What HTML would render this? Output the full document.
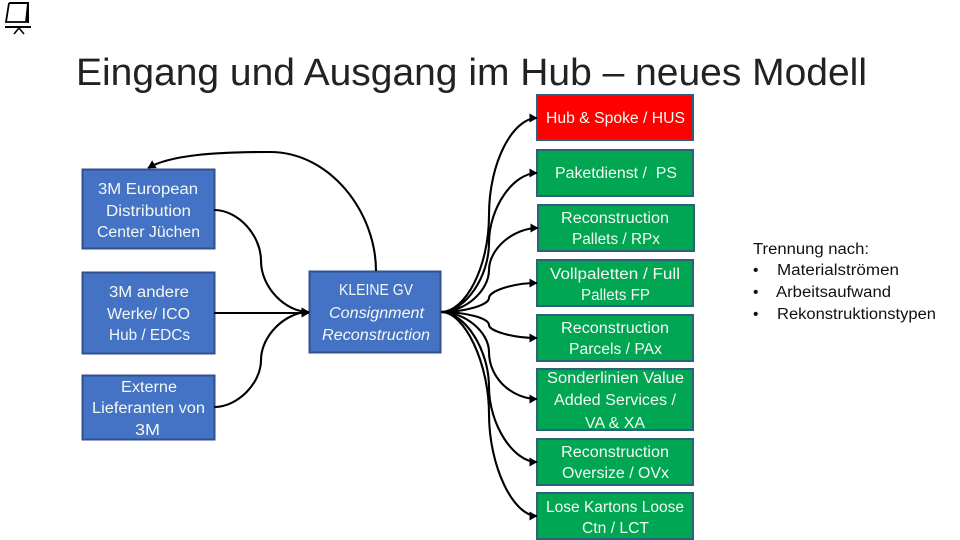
<!DOCTYPE html>
<html lang="de"><head><meta charset="utf-8"><title>Eingang und Ausgang im Hub</title>
<style>
html,body{margin:0;padding:0;background:#fff;width:960px;height:540px;overflow:hidden}
svg{display:block}
text{font-family:"Liberation Sans",sans-serif;font-size:15.5px}
.w text{fill:#f4f8f4}
.b rect{fill:#4472c4;stroke:#2f528f;stroke-width:2}
.g rect{fill:#00a651;stroke:#2f5f7f;stroke-width:2}
.c path{fill:none;stroke:#000;stroke-width:2.1}
.d text{fill:#111}
</style></head><body>
<svg width="960" height="540" viewBox="0 0 960 540" xmlns="http://www.w3.org/2000/svg">
<defs><marker id="a" markerUnits="userSpaceOnUse" markerWidth="10" markerHeight="10" refX="7.500" refY="4.500" orient="auto"><path d="M0 0L8 4.500L0 9Z" fill="#000"/></marker></defs>

<!-- icon -->
<g fill="none" stroke="#000">
<path d="M9 3H28V23" stroke-width="2"/><path d="M9 3L6 22H26L28 3" stroke-width="1.800"/><path d="M5 27H31" stroke-width="2"/><path d="M19 28L14 34M19 28L24 34" stroke-width="1.500"/>
</g>

<text x="76" y="85" style="font-size:38px" fill="#222" textLength="791" lengthAdjust="spacingAndGlyphs">Eingang und Ausgang im Hub – neues Modell</text>

<g class="b">
<rect x="82.500" y="169.500" width="132" height="79"/>
<rect x="82.500" y="272.500" width="132" height="81"/>
<rect x="82.500" y="375.500" width="132" height="64"/>
<rect x="309.500" y="271.500" width="131" height="81"/>
</g>
<g class="g">
<rect x="537" y="95" width="156" height="45" style="fill:#f00"/>
<rect x="537" y="150" width="156" height="46"/>
<rect x="538" y="205" width="156" height="46"/>
<rect x="537" y="260" width="156" height="46"/>
<rect x="537" y="315" width="156" height="46"/>
<rect x="537" y="369" width="156" height="61"/>
<rect x="537" y="439" width="156" height="46"/>
<rect x="537" y="493" width="156" height="46"/>
</g>

<g class="c">
<path marker-end="url(#a)" d="M214 210C238 210 261 235 261 261C261 287 285 312 309 312"/>
<path marker-end="url(#a)" d="M214 313H309"/>
<path marker-end="url(#a)" d="M214 407C238 407 261 383 261 360C261 336 285 312 309 312"/>
<path marker-end="url(#a)" d="M376 271C376 212 330 152 270 152C215 152 170 155 148 168"/>
<path marker-end="url(#a)" d="M441 312C465 312 489 268 489 215C489 162 513 118 537 118"/>
<path marker-end="url(#a)" d="M441 312C465 312 489 277 489 243C489 208 513 173 537 173"/>
<path marker-end="url(#a)" d="M441 312C465 312 489 291 489 270C489 249 513 228 538 228"/>
<path marker-end="url(#a)" d="M441 312C465 312 489 305 489 298C489 291 513 283 537 283"/>
<path marker-end="url(#a)" d="M441 312C465 312 489 318 489 325C489 331 513 338 537 338"/>
<path marker-end="url(#a)" d="M441 312C465 312 489 332 489 352C489 379 513 399 537 399"/>
<path marker-end="url(#a)" d="M441 312C465 312 489 350 489 387C489 424 513 462 537 462"/>
<path marker-end="url(#a)" d="M441 312C465 312 489 364 489 414C489 466 513 516 537 516"/>
</g>

<g class="w">
<text lengthAdjust="spacingAndGlyphs" x="98" y="194" textLength="100">3M European</text>
<text lengthAdjust="spacingAndGlyphs" x="106" y="216" textLength="85">Distribution</text>
<text lengthAdjust="spacingAndGlyphs" x="97" y="237" textLength="103">Center Jüchen</text>
<text lengthAdjust="spacingAndGlyphs" x="109" y="297" textLength="80">3M andere</text>
<text lengthAdjust="spacingAndGlyphs" x="107" y="319" textLength="83">Werke/ ICO</text>
<text lengthAdjust="spacingAndGlyphs" x="109" y="340" textLength="81">Hub / EDCs</text>
<text lengthAdjust="spacingAndGlyphs" x="121" y="392" textLength="56">Externe</text>
<text lengthAdjust="spacingAndGlyphs" x="92" y="413" textLength="113">Lieferanten von</text>
<text lengthAdjust="spacingAndGlyphs" x="135" y="435" textLength="25">3M</text>
<text lengthAdjust="spacingAndGlyphs" x="339" y="295" textLength="74">KLEINE GV</text>
<text lengthAdjust="spacingAndGlyphs" x="329" y="318" textLength="95" font-style="italic">Consignment</text>
<text lengthAdjust="spacingAndGlyphs" x="322" y="340" textLength="108" font-style="italic">Reconstruction</text>
<text lengthAdjust="spacingAndGlyphs" x="546" y="123" textLength="139">Hub &amp; Spoke / HUS</text>
<text lengthAdjust="spacingAndGlyphs" x="555" y="178" textLength="122" xml:space="preserve">Paketdienst /  PS</text>
<text lengthAdjust="spacingAndGlyphs" x="561" y="223" textLength="108">Reconstruction</text>
<text lengthAdjust="spacingAndGlyphs" x="572" y="244" textLength="88">Pallets / RPx</text>
<text lengthAdjust="spacingAndGlyphs" x="550" y="279" textLength="130">Vollpaletten / Full</text>
<text lengthAdjust="spacingAndGlyphs" x="581" y="300" textLength="69">Pallets FP</text>
<text lengthAdjust="spacingAndGlyphs" x="561" y="333" textLength="108">Reconstruction</text>
<text lengthAdjust="spacingAndGlyphs" x="569" y="354" textLength="93">Parcels / PAx</text>
<text lengthAdjust="spacingAndGlyphs" x="547" y="383" textLength="137">Sonderlinien Value</text>
<text lengthAdjust="spacingAndGlyphs" x="554" y="405" textLength="122">Added Services /</text>
<text lengthAdjust="spacingAndGlyphs" x="585" y="428" textLength="60">VA &amp; XA</text>
<text lengthAdjust="spacingAndGlyphs" x="561" y="457" textLength="108">Reconstruction</text>
<text lengthAdjust="spacingAndGlyphs" x="562" y="478" textLength="107">Oversize / OVx</text>
<text lengthAdjust="spacingAndGlyphs" x="546" y="512" textLength="138">Lose Kartons Loose</text>
<text lengthAdjust="spacingAndGlyphs" x="582" y="533" textLength="67">Ctn / LCT</text>
</g>

<g class="d">
<text lengthAdjust="spacingAndGlyphs" x="753" y="254" textLength="116">Trennung nach:</text>
<text x="753" y="275">•</text><text lengthAdjust="spacingAndGlyphs" x="777" y="275" textLength="122">Materialströmen</text>
<text x="753" y="297">•</text><text lengthAdjust="spacingAndGlyphs" x="776" y="297" textLength="115">Arbeitsaufwand</text>
<text x="753" y="319">•</text><text lengthAdjust="spacingAndGlyphs" x="777" y="319" textLength="159">Rekonstruktionstypen</text>
</g>
</svg>
</body></html>
